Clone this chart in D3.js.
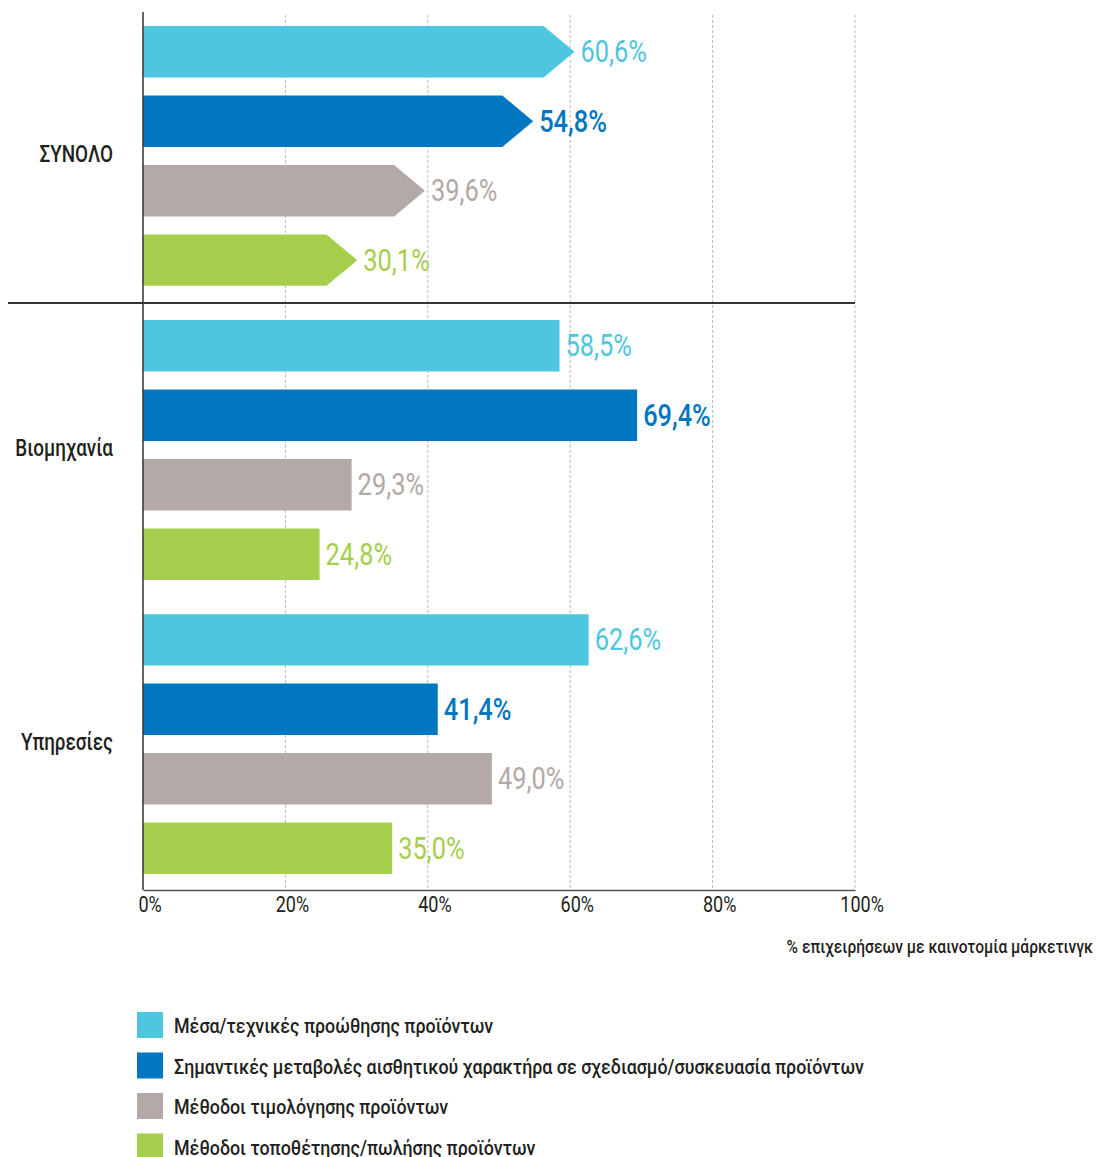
<!DOCTYPE html>
<html lang="el">
<head>
<meta charset="utf-8">
<script src="https://cdn.jsdelivr.net/npm/d3@7"></script>
<style>
  html, body { margin: 0; padding: 0; background: #fff; }
  svg { display: block; }
  text { font-family: Roboto, "Noto Sans", sans-serif; }
</style>
</head>
<body>
<svg id="chart" width="1096" height="1157"></svg>
<script>
// Categories (rows of bars, top to bottom)
const groups = ["ΣΥΝΟΛΟ", "Βιομηχανία", "Υπηρεσίες"];

// Marketing innovation types (one bar per group)
const seriesNames = [
  "Μέσα/τεχνικές προώθησης προϊόντων",
  "Σημαντικές μεταβολές αισθητικού χαρακτήρα σε σχεδιασμό/συσκευασία προϊόντων",
  "Μέθοδοι τιμολόγησης προϊόντων",
  "Μέθοδοι τοποθέτησης/πωλήσης προϊόντων"
];
const seriesColors = ["#4FC6DF", "#0077C0", "#B3A9A6", "#A6CE4D"];

// Values (% of enterprises), in the order of `groups`
const promotion = [60.6, 58.5, 62.6];
const design    = [54.8, 69.4, 41.4];
const pricing   = [39.6, 29.3, 49.0];
const placement = [30.1, 24.8, 35.0];

const tickValues = [0, 20, 40, 60, 80, 100];
const axisTitle = "% επιχειρήσεων με καινοτομία μάρκετινγκ";

const seriesValues = [promotion, design, pricing, placement];
const rows = [];
groups.forEach((g, gi) => {
  seriesValues.forEach((vals, si) => {
    rows.push({ group: g, gi, si, value: vals[gi] });
  });
});

const svg = d3.select("#chart");
const ink = "#231f20";
const narrow = 0.82;   // horizontal condensing of the label type

const x = d3.scaleLinear().domain([0, 100]).range([143, 855]);
const yGroup = d3.scaleBand().domain(groups).range([17, 883]).paddingInner(0.055);
const yBar = d3.scaleBand().domain(d3.range(seriesNames.length))
  .range([0, yGroup.bandwidth()]).paddingInner(0.26).paddingOuter(0.13);

const fmt = v => d3.format(".1f")(v).replace(".", ",") + "%";

// Places a text at (px, py) and squeezes it horizontally
function placeNarrow(sel, px, py, k = narrow) {
  sel.attr("transform", (d, i) => `translate(${px(d, i)},${py(d, i)}) scale(${k},1)`);
}

// Dashed vertical gridlines
svg.append("g").selectAll("line")
  .data(tickValues.slice(1))
  .join("line")
  .attr("x1", d => x(d)).attr("x2", d => x(d))
  .attr("y1", 15).attr("y2", 890)
  .attr("stroke", "#b9b9b9")
  .attr("stroke-width", 1)
  .attr("stroke-dasharray", "3,2");

// Bars: the total row is drawn as arrows, the sectors as plain bars
const bh = yBar.bandwidth();
const head = bh * 0.6;
const barY = d => yGroup(d.group) + yBar(d.si);

svg.append("g").selectAll("path")
  .data(rows)
  .join("path")
  .attr("fill", d => seriesColors[d.si])
  .attr("d", d => {
    const y0 = barY(d), y1 = y0 + bh, x0 = x(0), x1 = x(d.value);
    if (d.gi === 0) {
      return `M${x0},${y0}H${x1 - head}L${x1},${(y0 + y1) / 2}L${x1 - head},${y1}H${x0}Z`;
    }
    return `M${x0},${y0}H${x1}V${y1}H${x0}Z`;
  });

// Value labels
svg.append("g").selectAll("text")
  .data(rows)
  .join("text")
  .call(placeNarrow, d => x(d.value) + 6, d => barY(d) + bh / 2)
  .attr("dominant-baseline", "central")
  .attr("fill", d => seriesColors[d.si])
  .attr("font-size", 31)
  .attr("font-weight", d => d.si === 1 ? 500 : 400)
  .text(d => fmt(d.value));

// Category labels
svg.append("g").selectAll("text")
  .data(groups)
  .join("text")
  .call(placeNarrow, () => 113, d => yGroup(d) + yGroup.bandwidth() / 2 - 2)
  .attr("text-anchor", "end")
  .attr("dominant-baseline", "central")
  .attr("fill", ink)
  .attr("font-size", 23)
  .attr("font-weight", 500)
  .text(d => d);

// Separator between the total and the sectors
const sepY = (yGroup(groups[0]) + yGroup.bandwidth() + yGroup(groups[1])) / 2;
svg.append("line")
  .attr("x1", 8).attr("x2", x(100))
  .attr("y1", sepY).attr("y2", sepY)
  .attr("stroke", "#333").attr("stroke-width", 2);

// Axes
svg.append("line")
  .attr("x1", x(0)).attr("x2", x(0))
  .attr("y1", 12).attr("y2", 890)
  .attr("stroke", "#333").attr("stroke-width", 1.5);

const xAxis = d3.axisBottom(x).tickValues(tickValues).tickSize(0).tickPadding(6)
  .tickFormat(d => d + "%");
const gx = svg.append("g").attr("transform", "translate(0,890)").call(xAxis);
gx.attr("font-family", null).attr("font-size", null);
gx.select(".domain").attr("stroke", "#555").attr("stroke-width", 1.5);
gx.selectAll(".tick text")
  .attr("x", 8)
  .attr("transform", `scale(${narrow},1)`)
  .attr("font-size", 22)
  .attr("fill", ink);

svg.append("text")
  .call(placeNarrow, () => 1093, () => 946)
  .attr("text-anchor", "end")
  .attr("dominant-baseline", "central")
  .attr("fill", ink)
  .attr("font-size", 19)
  .attr("font-weight", 500)
  .text(axisTitle);

// Legend
const legend = svg.append("g").selectAll("g")
  .data(seriesNames)
  .join("g")
  .attr("transform", (d, i) => `translate(137,${1012 + i * 40.5})`);
legend.append("rect")
  .attr("width", 26).attr("height", 26)
  .attr("fill", (d, i) => seriesColors[i]);
legend.append("text")
  .call(placeNarrow, () => 37, () => 14, 0.85)
  .attr("dominant-baseline", "central")
  .attr("fill", ink)
  .attr("font-size", 21)
  .attr("font-weight", 500)
  .text(d => d);
</script>
</body>
</html>
